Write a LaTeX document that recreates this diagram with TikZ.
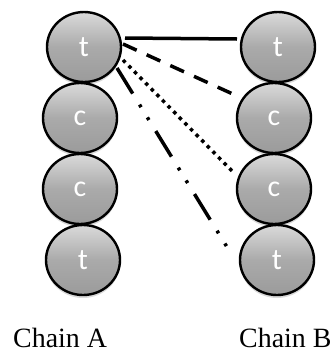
\documentclass[tikz,border=0pt]{standalone}
\usepackage{fontspec}
\setmainfont{Liberation Serif}
\newfontfamily\beadfont{Carlito}
\usetikzlibrary{shapes.geometric,shadows,calc}
\definecolor{beadtop}{RGB}{218,218,218}
\definecolor{beadmid}{RGB}{170,170,170}
\definecolor{beadbot}{RGB}{155,155,155}
\begin{document}
\begin{tikzpicture}[x=1bp,y=-1bp,
  bead/.style={ellipse, draw=black, line width=2.4bp, minimum width=74bp, minimum height=70bp,
    inner sep=0pt, top color=beadtop, bottom color=beadbot, middle color=beadmid,
    drop shadow={shadow xshift=0bp, shadow yshift=-3bp, opacity=0.3},
    text=white, font=\beadfont\fontsize{30}{30}\selectfont},
  chainlabel/.style={anchor=base west, inner sep=0pt, font=\fontsize{28}{28}\selectfont},
  link/.style={line width=3.5bp, draw=black, line cap=butt}]
\useasboundingbox (0,0) rectangle (331,354);
\node[bead] (A1) at (84,47) {t};
\node[bead] (A2) at (80,118) {c};
\node[bead] (A3) at (80,189) {c};
\node[bead] (A4) at (83,260) {t};
\node[bead] (B1) at (278,47) {t};
\node[bead] (B2) at (274,118) {c};
\node[bead] (B3) at (274,189) {c};
\node[bead] (B4) at (277,260) {t};
\draw[link] ($(A1)+(41,-9)$) -- ($(B1)+(-41,-8)$);
\draw[link, dash pattern=on 15bp off 11bp] ($(A1)+(39,-3)$) -- ($(B2)+(-39,-23)$);
\draw[link, dash pattern=on 3.5bp off 4.5bp] ($(A1)+(39,13)$) -- ($(B3)+(-41,-17)$);
\draw[link, dash pattern=on 30bp off 13bp on 3bp off 12bp on 3bp off 13bp] ($(A1)+(33,21)$) -- ($(B4)+(-50,-13)$);
\node[chainlabel] (LA) at (13,347) {Chain A};
\node[chainlabel] (LB) at (239,347) {Chain B};
\end{tikzpicture}
\end{document}
